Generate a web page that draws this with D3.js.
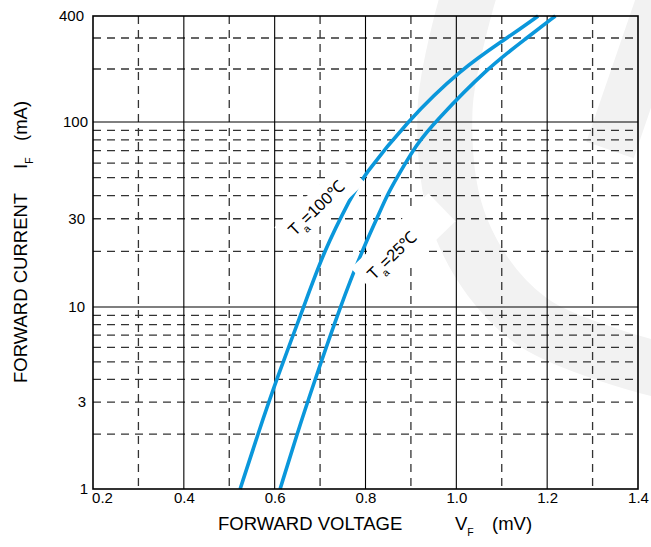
<!DOCTYPE html>
<html>
<head>
<meta charset="utf-8">
<script src="https://cdn.jsdelivr.net/npm/d3@7"></script>
<style>
  html, body { margin: 0; padding: 0; background: #fff; }
  svg { display: block; font-family: "Liberation Sans", Arial, Helvetica, sans-serif; }
</style>
</head>
<body>
<svg id="chart" width="651" height="547"></svg>
<script>
// ---------------- data ----------------
const xTickValues = [0.2, 0.4, 0.6, 0.8, 1.0, 1.2, 1.4];
const xTickLabels = ["0.2", "0.4", "0.6", "0.8", "1.0", "1.2", "1.4"];
const xMajorGrid = [0.4, 0.6, 0.8, 1.0, 1.2];
const xMinorGrid = [0.3, 0.5, 0.7, 0.9, 1.1, 1.3];
const yTickValues = [1, 3, 10, 30, 100, 400];
const yTickLabels = ["1", "3", "10", "30", "100", "400"];
const yMajorGrid = [10, 100];
const yMinorGrid = [2, 3, 4, 5, 6, 7, 8, 9, 20, 30, 40, 50, 60, 70, 80, 90, 200, 300];

// Ta = 100 °C curve
const t100V = [0.524, 0.563, 0.604, 0.664, 0.708, 0.770, 0.793, 0.890, 1.010, 1.112, 1.180];
const t100I = [1, 2, 4, 10, 20, 40, 50, 100, 200, 300, 400];
// Ta = 25 °C curve
const t25V = [0.612, 0.649, 0.689, 0.744, 0.792, 0.825, 0.847, 0.869, 0.914, 0.953, 1.066, 1.155, 1.218];
const t25I = [1, 2, 4, 10, 20, 30, 40, 50, 77, 100, 200, 300, 400];

const seriesLabels = ["100℃", "25℃"];

// ---------------- layout ----------------
const svg = d3.select("#chart");
const pL = 93, pR = 638, pT = 16, pB = 489;

const x = d3.scaleLinear().domain([0.2, 1.4]).range([pL, pR]);
const y = d3.scaleLog().domain([1, 10, 100, 400]).range([pB, 307, 122, pT]);

// faint watermark in background
const wm = svg.append("g").attr("fill", "none").attr("stroke", "#f2f2f2").attr("stroke-linecap", "butt");
wm.append("path")
  .attr("d", d3.line().curve(d3.curveCatmullRom)([[470, -10], [445, 110], [462, 230], [530, 320], [660, 370]]))
  .attr("stroke-width", 55);
wm.append("path")
  .attr("d", d3.line()([[665, -10], [610, 150]]))
  .attr("stroke-width", 50);

// grid
const grid = svg.append("g");
grid.selectAll(".vmin").data(xMinorGrid).join("line")
  .attr("x1", d => x(d)).attr("x2", d => x(d)).attr("y1", pT).attr("y2", pB)
  .attr("stroke", "#333").attr("stroke-width", 1.3).attr("stroke-dasharray", "8,6");
grid.selectAll(".hmin").data(yMinorGrid).join("line")
  .attr("x1", pL).attr("x2", pR).attr("y1", d => y(d)).attr("y2", d => y(d))
  .attr("stroke", "#333").attr("stroke-width", 1.3).attr("stroke-dasharray", "8,6");
grid.selectAll(".vmaj").data(xMajorGrid).join("line")
  .attr("x1", d => x(d)).attr("x2", d => x(d)).attr("y1", pT).attr("y2", pB)
  .attr("stroke", "#000").attr("stroke-width", 1.1);
grid.selectAll(".hmaj").data(yMajorGrid).join("line")
  .attr("x1", pL).attr("x2", pR).attr("y1", d => y(d)).attr("y2", d => y(d))
  .attr("stroke", "#000").attr("stroke-width", 1.1);

// curves
const line = d3.line().x(d => x(d[0])).y(d => y(d[1])).curve(d3.curveBasis);
const c100 = t100V.map((v, i) => [v, t100I[i]]);
const c25 = t25V.map((v, i) => [v, t25I[i]]);
[c100, c25].forEach(c => {
  svg.append("path").datum(c).attr("d", line)
    .attr("fill", "none").attr("stroke", "#0a97db").attr("stroke-width", 3.6);
});

// curve labels with white boxes
const ang = -44;
function curveLabel(cx, cy, txt, box) {
  const g = svg.append("g").attr("transform", `translate(${cx},${cy}) rotate(${ang})`);
  g.append("rect").attr("x", box[0]).attr("y", box[1]).attr("width", box[2]).attr("height", box[3]).attr("fill", "#fff");
  const t = g.append("text").attr("x", -38).attr("y", 6).attr("font-size", 16.5).attr("fill", "#000");
  t.append("tspan").text("T");
  t.append("tspan").attr("font-size", 10.5).attr("dy", 6).attr("dx", 1).text("a");
  t.append("tspan").attr("dy", -6).attr("dx", 0).text("=" + txt);
}
curveLabel(318, 206, seriesLabels[0], [-46, -15, 96, 31]);
curveLabel(397, 250, seriesLabels[1], [-46, -19, 108, 39]);

// frame
svg.append("rect").attr("x", pL).attr("y", pT).attr("width", pR - pL).attr("height", pB - pT)
  .attr("fill", "none").attr("stroke", "#000").attr("stroke-width", 1.6);

// x tick labels (via axis)
const xAxis = svg.append("g").attr("transform", `translate(0,${pB})`)
  .call(d3.axisBottom(x).tickValues(xTickValues).tickFormat((d, i) => xTickLabels[i]).tickSize(0).tickPadding(3));
xAxis.select(".domain").remove();
xAxis.selectAll("text").attr("font-size", 15).attr("fill", "#000").attr("font-family", null)
  .attr("dx", (d, i) => i === 0 ? 9 : 0);

// y tick labels
const yAxis = svg.append("g").attr("transform", `translate(${pL},0)`)
  .call(d3.axisLeft(y).tickValues(yTickValues).tickFormat((d, i) => yTickLabels[i]).tickSize(0).tickPadding(5));
yAxis.select(".domain").remove();
yAxis.selectAll("text").attr("font-size", 15).attr("fill", "#000").attr("font-family", null)
  .attr("dx", (d, i) => [0, -2, -3, -3, 0, -4][i]);

// axis titles
const xt = svg.append("text").attr("x", 218).attr("y", 530).attr("font-size", 18.5).attr("fill", "#000");
xt.append("tspan").text("FORWARD VOLTAGE");
xt.append("tspan").attr("x", 455).text("V");
xt.append("tspan").attr("font-size", 10.5).attr("dy", 6).text("F");
xt.append("tspan").attr("x", 492).attr("dy", -6).text("(mV)");

const yt = svg.append("text").attr("transform", "translate(27,0) rotate(-90)").attr("font-size", 18.5).attr("fill", "#000");
yt.append("tspan").attr("x", -383).text("FORWARD CURRENT");
yt.append("tspan").attr("x", -169).text("I");
yt.append("tspan").attr("font-size", 10.5).attr("dy", 6).text("F");
yt.append("tspan").attr("x", -141).attr("dy", -6).text("(mA)");
</script>
</body>
</html>
